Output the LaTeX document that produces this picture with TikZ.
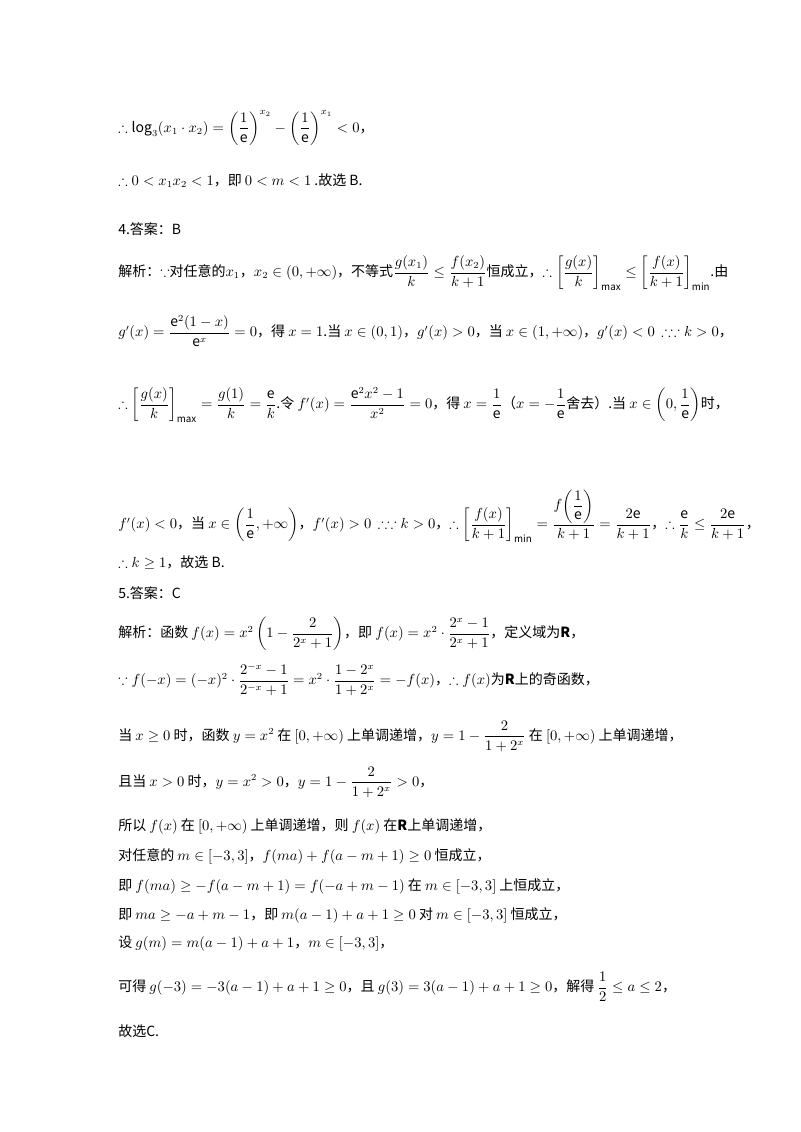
\documentclass[tikz,border=0pt]{standalone}
\usepackage{amsmath,amssymb}
\usepackage{fontspec}
\setmainfont{Noto Sans CJK SC}
\begin{document}
\begin{tikzpicture}[x=0.75pt,y=-0.75pt,
  ln/.style={anchor=west,inner sep=0pt,font=\fontsize{10.5}{12}\selectfont}]
\useasboundingbox (0,0) rectangle (800,1132);
\node[ln] (l1) at (118,128) {$\therefore \log_3(x_1\cdot x_2)=\left(\dfrac{1}{\mathrm e}\right)^{x_2}-\left(\dfrac{1}{\mathrm e}\right)^{x_1}<0$，};
\node[ln] (l2) at (118,181) {$\therefore 0<x_1x_2<1$，即 $0<m<1$ .故选 B.};
\node[ln] (l3) at (118,229) {4.答案：B};
\node[ln] (l4) at (118,273) {解析：$\because$对任意的$x_1$，$x_2\in(0,+\infty)$，不等式$\dfrac{g(x_1)}{k}\le\dfrac{f(x_2)}{k+1}$恒成立，$\therefore\left[\dfrac{g(x)}{k}\right]_{\max}\le\left[\dfrac{f(x)}{k+1}\right]_{\min}$.由};
\node[ln] (l5) at (118,331) {$g'(x)=\dfrac{\mathrm e^2(1-x)}{\mathrm e^x}=0$，得 $x=1$.当 $x\in(0,1)$，$g'(x)>0$，当 $x\in(1,+\infty)$，$g'(x)<0\,\therefore\because k>0$，};
\node[ln] (l6) at (118,405) {$\therefore\left[\dfrac{g(x)}{k}\right]_{\max}=\dfrac{g(1)}{k}=\dfrac{\mathrm e}{k}$.令 $f'(x)=\dfrac{\mathrm e^2x^2-1}{x^2}=0$，得 $x=\dfrac{1}{\mathrm e}$（$x=-\dfrac{1}{\mathrm e}$舍去）.当 $x\in\left(0,\dfrac{1}{\mathrm e}\right)$时，};
\node[ln] (l7) at (118,516) {$f'(x)<0$，当 $x\in\left(\dfrac{1}{\mathrm e},+\infty\right)$，$f'(x)>0\,\therefore\because k>0$，$\therefore\left[\dfrac{f(x)}{k+1}\right]_{\min}=\dfrac{f\!\left(\dfrac{1}{\mathrm e}\right)}{k+1}=\dfrac{2\mathrm e}{k+1}$，$\therefore\dfrac{\mathrm e}{k}\le\dfrac{2\mathrm e}{k+1}$，};
\node[ln] (l8) at (118,563) {$\therefore k\ge1$，故选 B.};
\node[ln] (l9) at (118,593) {5.答案：C};
\node[ln] (l10) at (118,634) {解析：函数 $f(x)=x^2\left(1-\dfrac{2}{2^x+1}\right)$，即 $f(x)=x^2\cdot\dfrac{2^x-1}{2^x+1}$，定义域为\textbf{R}，};
\node[ln] (l11) at (118,680) {$\because f(-x)=(-x)^2\cdot\dfrac{2^{-x}-1}{2^{-x}+1}=x^2\cdot\dfrac{1-2^x}{1+2^x}=-f(x)$，$\therefore f(x)$为\textbf{R}上的奇函数，};
\node[ln] (l12) at (118,736) {当 $x\ge0$ 时，函数 $y=x^2$ 在 $[0,+\infty)$ 上单调递增，$y=1-\dfrac{2}{1+2^x}$ 在 $[0,+\infty)$ 上单调递增，};
\node[ln] (l13) at (118,782) {且当 $x>0$ 时，$y=x^2>0$，$y=1-\dfrac{2}{1+2^x}>0$，};
\node[ln] (l14) at (118,826) {所以 $f(x)$ 在 $[0,+\infty)$ 上单调递增，则 $f(x)$ 在\textbf{R}上单调递增，};
\node[ln] (l15) at (118,856) {对任意的 $m\in[-3,3]$，$f(ma)+f(a-m+1)\ge0$ 恒成立，};
\node[ln] (l16) at (118,886) {即 $f(ma)\ge-f(a-m+1)=f(-a+m-1)$ 在 $m\in[-3,3]$ 上恒成立，};
\node[ln] (l17) at (118,915) {即 $ma\ge-a+m-1$，即 $m(a-1)+a+1\ge0$ 对 $m\in[-3,3]$ 恒成立，};
\node[ln] (l18) at (118,944) {设 $g(m)=m(a-1)+a+1$，$m\in[-3,3]$，};
\node[ln] (l19) at (118,987) {可得 $g(-3)=-3(a-1)+a+1\ge0$，且 $g(3)=3(a-1)+a+1\ge0$，解得 $\dfrac12\le a\le2$，};
\node[ln] (l20) at (118,1031) {故选C.};
\end{tikzpicture}
\end{document}
